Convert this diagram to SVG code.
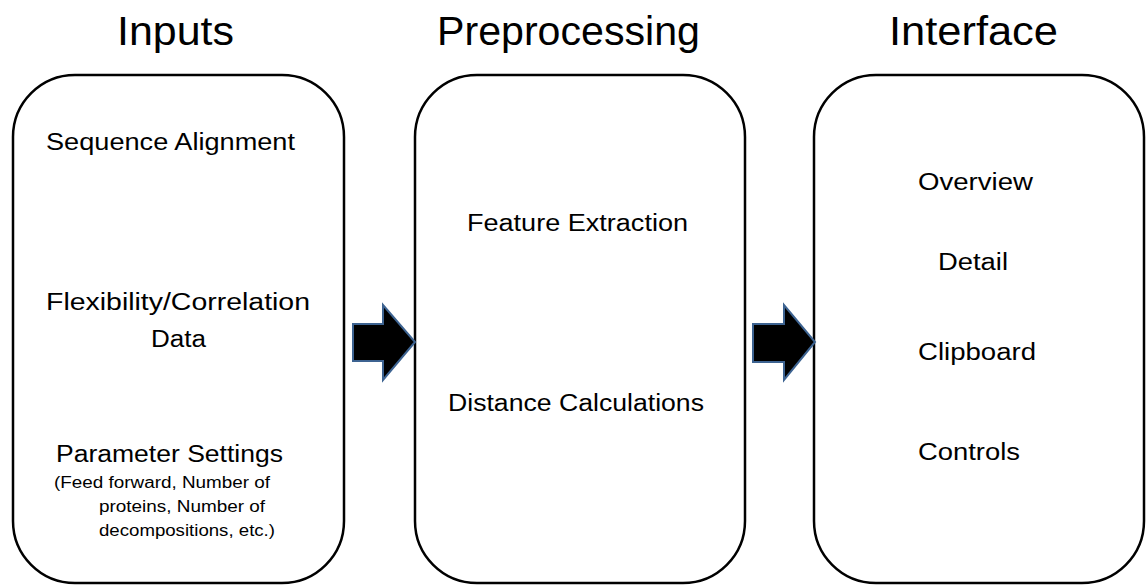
<svg xmlns="http://www.w3.org/2000/svg" width="1146" height="585" viewBox="0 0 1146 585">
<style>
.box{fill:#fff;stroke:#000;stroke-width:2.5}
.t{font-family:"Liberation Sans",Arial,sans-serif;fill:#000}
.h{font-size:40px}
.m{font-size:23px}
.s{font-size:16px}
.arr{fill:#000;stroke:#3d6391;stroke-width:2;stroke-linejoin:miter}
</style>
<rect width="1146" height="585" fill="#fff"/>
<g id="title-inputs"><text class="t h" x="175.5" y="45" text-anchor="middle" textLength="117" lengthAdjust="spacingAndGlyphs">Inputs</text></g>
<g id="title-preprocessing"><text class="t h" x="568.5" y="45" text-anchor="middle" textLength="263" lengthAdjust="spacingAndGlyphs">Preprocessing</text></g>
<g id="title-interface"><text class="t h" x="973.5" y="45" text-anchor="middle" textLength="169" lengthAdjust="spacingAndGlyphs">Interface</text></g>
<g id="node-inputs">
<rect class="box" x="13" y="75" width="331" height="508" rx="62" ry="62"/>
<text class="t m" x="46" y="150" textLength="249" lengthAdjust="spacingAndGlyphs">Sequence Alignment</text>
<text class="t m" x="46" y="310" textLength="264" lengthAdjust="spacingAndGlyphs">Flexibility/Correlation</text>
<text class="t m" x="151" y="347" textLength="55" lengthAdjust="spacingAndGlyphs">Data</text>
<text class="t m" x="56" y="462" textLength="227" lengthAdjust="spacingAndGlyphs">Parameter Settings</text>
<text class="t s" x="54" y="488" textLength="216" lengthAdjust="spacingAndGlyphs">(Feed forward, Number of</text>
<text class="t s" x="99" y="512" textLength="166" lengthAdjust="spacingAndGlyphs">proteins, Number of</text>
<text class="t s" x="99" y="536" textLength="176" lengthAdjust="spacingAndGlyphs">decompositions, etc.)</text>
</g>
<g id="node-preprocessing">
<rect class="box" x="415" y="75" width="330" height="508" rx="62" ry="62"/>
<text class="t m" x="467" y="231" textLength="221" lengthAdjust="spacingAndGlyphs">Feature Extraction</text>
<text class="t m" x="448" y="411" textLength="256" lengthAdjust="spacingAndGlyphs">Distance Calculations</text>
</g>
<g id="node-interface">
<rect class="box" x="814" y="75" width="330" height="508" rx="62" ry="62"/>
<text class="t m" x="918" y="190" textLength="115" lengthAdjust="spacingAndGlyphs">Overview</text>
<text class="t m" x="938" y="270" textLength="70" lengthAdjust="spacingAndGlyphs">Detail</text>
<text class="t m" x="918" y="360" textLength="118" lengthAdjust="spacingAndGlyphs">Clipboard</text>
<text class="t m" x="918" y="460" textLength="102" lengthAdjust="spacingAndGlyphs">Controls</text>
</g>
<g id="connectors">
<polygon class="arr" points="353,324 383,324 383,305 415,342 383,380 383,361 353,361"/>
<polygon class="arr" points="753,324 784,324 784,305 815,342 784,380 784,362 753,362"/>
</g>
</svg>
